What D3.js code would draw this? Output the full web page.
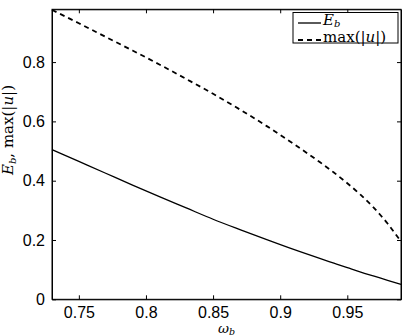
<!DOCTYPE html>
<html><head><meta charset="utf-8">
<script src="https://cdn.jsdelivr.net/npm/d3@7"></script>
<style>body{margin:0;background:#fff;} svg{display:block;}</style>
</head><body>
<svg id="c" width="407" height="336"></svg>
<script>
const omega = [0.73,0.75,0.77,0.79,0.81,0.83,0.85,0.87,0.89,0.91,0.93,0.94,0.95,0.96,0.97,0.98,0.99];
const Eb    = [0.505,0.465,0.425,0.385,0.346,0.308,0.270,0.235,0.201,0.168,0.137,0.122,0.107,0.092,0.078,0.064,0.050];
const maxU  = [0.976,0.931,0.885,0.839,0.792,0.743,0.693,0.640,0.584,0.524,0.461,0.4275,0.3915,0.352,0.3075,0.2555,0.1945];
const xTicks = [0.75,0.8,0.85,0.9,0.95];
const xTickLabels = ["0.75","0.8","0.85","0.9","0.95"];
const yTicks = [0,0.2,0.4,0.6,0.8];
const yTickLabels = ["0","0.2","0.4","0.6","0.8"];

const L=52, R=401, T=9.3, B=299.3;
const svg = d3.select("#c");
const x = d3.scaleLinear().domain([0.73,0.99]).range([L,R]);
const y = d3.scaleLinear().domain([0,0.978]).range([B,T]);

const tickFont = "'Liberation Sans', Arial, Helvetica, sans-serif";
const mathFont = "'DejaVu Serif', 'Liberation Serif', serif";

const line = (arr) => d3.line().x((d,i)=>x(omega[i])).y(d=>y(d)).curve(d3.curveMonotoneX)(arr);

svg.append("path").attr("d", line(Eb)).attr("fill","none").attr("stroke","#000").attr("stroke-width",1.3);
svg.append("path").attr("d", line(maxU)).attr("fill","none").attr("stroke","#000").attr("stroke-width",1.8).attr("stroke-dasharray","5,4");

// axes
const xb = svg.append("g").attr("transform",`translate(0,${B})`)
  .call(d3.axisBottom(x).tickValues(xTicks).tickFormat((d,i)=>xTickLabels[i]).tickSizeInner(-4).tickSizeOuter(0).tickPadding(7.5));
const xt = svg.append("g").attr("transform",`translate(0,${T})`)
  .call(d3.axisTop(x).tickValues(xTicks).tickFormat("").tickSizeInner(-4).tickSizeOuter(0));
const yl = svg.append("g").attr("transform",`translate(${L},0)`)
  .call(d3.axisLeft(y).tickValues(yTicks).tickFormat((d,i)=>yTickLabels[i]).tickSizeInner(-4).tickSizeOuter(0).tickPadding(7));
const yr = svg.append("g").attr("transform",`translate(${R},0)`)
  .call(d3.axisRight(y).tickValues(yTicks).tickFormat("").tickSizeInner(-4).tickSizeOuter(0));
[xb,xt,yl,yr].forEach(g=>{
  g.selectAll(".domain").attr("stroke","#000").attr("stroke-width",1);
  g.selectAll(".tick line").attr("stroke","#000");
  g.selectAll("text").attr("font-family",tickFont).attr("font-size",16).attr("fill","#000");
});
svg.append("rect").attr("x",L).attr("y",T).attr("width",R-L).attr("height",B-T)
  .attr("fill","none").attr("stroke","#000").attr("stroke-width",1);

// axis labels
const xl = svg.append("text").attr("x",(L+R)/2).attr("y",332.5).attr("text-anchor","middle")
  .attr("font-family",mathFont).attr("font-size",13.5).attr("font-style","italic");
xl.append("tspan").text("ω");
xl.append("tspan").attr("font-size",9.5).attr("dy",2).text("b");
const yt = svg.append("text").attr("transform","translate(13,130) rotate(-90)").attr("text-anchor","middle")
  .attr("font-family",mathFont).attr("font-size",15);
yt.append("tspan").attr("font-style","italic").text("E");
yt.append("tspan").attr("font-style","italic").attr("font-size",10).attr("dy",3).text("b");
yt.append("tspan").attr("dy",-3).text(", max(|");
yt.append("tspan").attr("font-style","italic").text("u");
yt.append("tspan").text("|)");

// legend
const lg = svg.append("g");
lg.append("rect").attr("x",293).attr("y",12.5).attr("width",105).attr("height",30.5)
  .attr("fill","#fff").attr("stroke","#000").attr("stroke-width",1);
lg.append("line").attr("x1",298).attr("x2",321).attr("y1",23).attr("y2",23).attr("stroke","#000").attr("stroke-width",1.3);
lg.append("line").attr("x1",298).attr("x2",321).attr("y1",40).attr("y2",40).attr("stroke","#000").attr("stroke-width",1.8).attr("stroke-dasharray","5,4");
const t1 = lg.append("text").attr("x",323).attr("y",25).attr("font-family",mathFont).attr("font-size",15);
t1.append("tspan").attr("font-style","italic").text("E");
t1.append("tspan").attr("font-style","italic").attr("font-size",10).attr("dy",2).text("b");
const t2 = lg.append("text").attr("x",323).attr("y",41.5).attr("font-family",mathFont).attr("font-size",15);
t2.append("tspan").text("max(|");
t2.append("tspan").attr("font-style","italic").text("u");
t2.append("tspan").text("|)");
</script>
</body></html>
